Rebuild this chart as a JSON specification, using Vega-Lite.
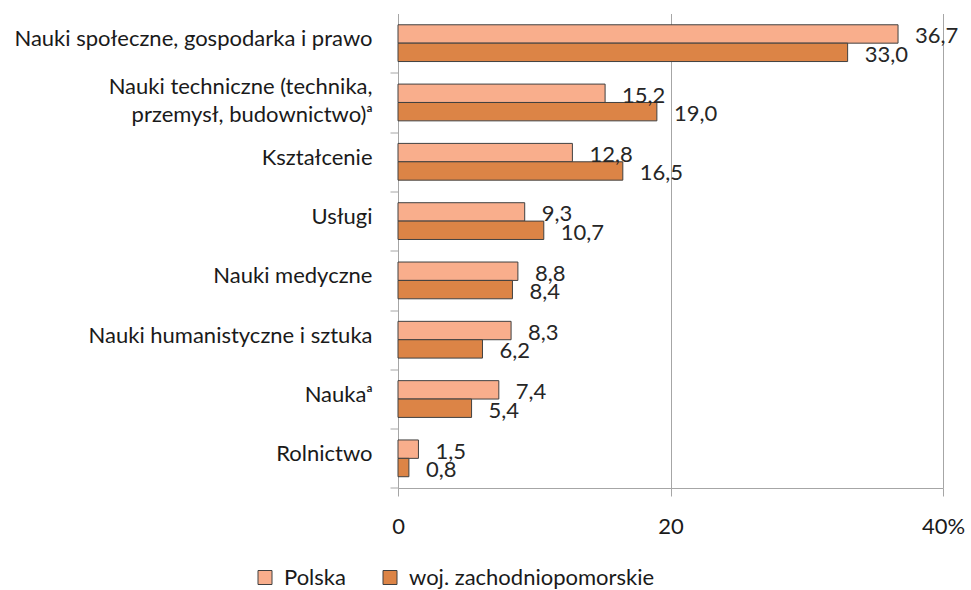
{
  "$schema": "https://vega.github.io/schema/vega-lite/v6.json",
  "width": 545,
  "height": 474.5,
  "autosize": "none",
  "padding": {"left": 398, "top": 13.5, "right": 28, "bottom": 102},
  "background": "white",
  "config": {
    "locale": {"number": {"decimal": ",", "thousands": " ", "grouping": [3], "currency": ["", " zł"]}},
    "view": {"stroke": null},
    "font": "Lato"
  },
  "data": {
    "values": [
      {"category": "Nauki społeczne, gospodarka i prawo", "series": "Polska", "value": 36.7},
      {"category": "Nauki społeczne, gospodarka i prawo", "series": "woj. zachodniopomorskie", "value": 33.0},
      {"category": "Nauki techniczne (technika, przemysł, budownictwo)ᵃ", "series": "Polska", "value": 15.2},
      {"category": "Nauki techniczne (technika, przemysł, budownictwo)ᵃ", "series": "woj. zachodniopomorskie", "value": 19.0},
      {"category": "Kształcenie", "series": "Polska", "value": 12.8},
      {"category": "Kształcenie", "series": "woj. zachodniopomorskie", "value": 16.5},
      {"category": "Usługi", "series": "Polska", "value": 9.3},
      {"category": "Usługi", "series": "woj. zachodniopomorskie", "value": 10.7},
      {"category": "Nauki medyczne", "series": "Polska", "value": 8.8},
      {"category": "Nauki medyczne", "series": "woj. zachodniopomorskie", "value": 8.4},
      {"category": "Nauki humanistyczne i sztuka", "series": "Polska", "value": 8.3},
      {"category": "Nauki humanistyczne i sztuka", "series": "woj. zachodniopomorskie", "value": 6.2},
      {"category": "Naukaᵃ", "series": "Polska", "value": 7.4},
      {"category": "Naukaᵃ", "series": "woj. zachodniopomorskie", "value": 5.4},
      {"category": "Rolnictwo", "series": "Polska", "value": 1.5},
      {"category": "Rolnictwo", "series": "woj. zachodniopomorskie", "value": 0.8}
    ]
  },
  "encoding": {
    "y": {
      "field": "category",
      "type": "nominal",
      "sort": null,
      "scale": {"paddingInner": 0.38, "paddingOuter": 0.19},
      "axis": {
        "title": null,
        "domainColor": "#A6A6A6",
        "tickColor": "#A6A6A6",
        "tickSize": 8,
        "tickOffset": 29.65,
        "labelPadding": 18,
        "labelFontSize": 22,
        "labelColor": "#1a1a1a",
        "labelLimit": 0,
        "labelOffset": {"condition": {"test": "indexof(datum.value, 'technika') >= 0", "value": -45.4}, "value": -34.2},
        "labelLineHeight": 28,
        "labelExpr": "indexof(datum.value, 'technika') >= 0 ? ['Nauki techniczne (technika,', 'przemysł, budownictwo)ᵃ'] : datum.value"
      }
    },
    "yOffset": {
      "field": "series",
      "type": "nominal",
      "sort": ["Polska", "woj. zachodniopomorskie"],
      "scale": {"paddingInner": 0, "paddingOuter": 0}
    },
    "x": {
      "field": "value",
      "type": "quantitative",
      "scale": {"domain": [0, 40], "nice": false},
      "axis": {
        "title": null,
        "values": [0, 20, 40],
        "grid": true,
        "gridColor": "#A6A6A6",
        "domainColor": "#A6A6A6",
        "tickColor": "#A6A6A6",
        "tickSize": 8,
        "labelFontSize": 22,
        "labelPadding": 20,
        "labelFlush": false,
        "labelColor": "#1a1a1a",
        "labelExpr": "datum.value == 40 ? '40%' : datum.label"
      }
    }
  },
  "layer": [
    {
      "mark": {"type": "bar", "stroke": "#404040", "strokeWidth": 1},
      "encoding": {
        "color": {
          "field": "series",
          "type": "nominal",
          "scale": {"domain": ["Polska", "woj. zachodniopomorskie"], "range": ["#F9AE8C", "#DC8446"]},
          "legend": {
            "title": null,
            "orient": "none",
            "legendX": -144,
            "legendY": 553,
            "direction": "horizontal",
            "symbolType": "square",
            "symbolSize": 196,
            "symbolStrokeColor": "#404040",
            "symbolStrokeWidth": 1,
            "labelFontSize": 22,
            "labelOffset": 8,
            "columnPadding": 33,
            "labelColor": "#1a1a1a",
            "padding": 0,
            "labelLimit": 0
          }
        }
      }
    },
    {
      "mark": {"type": "text", "align": "left", "baseline": "middle", "dx": 17, "dy": 2.5, "fontSize": 22, "color": "#262626"},
      "encoding": {
        "text": {"field": "value", "type": "quantitative", "format": ".1f"}
      }
    }
  ]
}
